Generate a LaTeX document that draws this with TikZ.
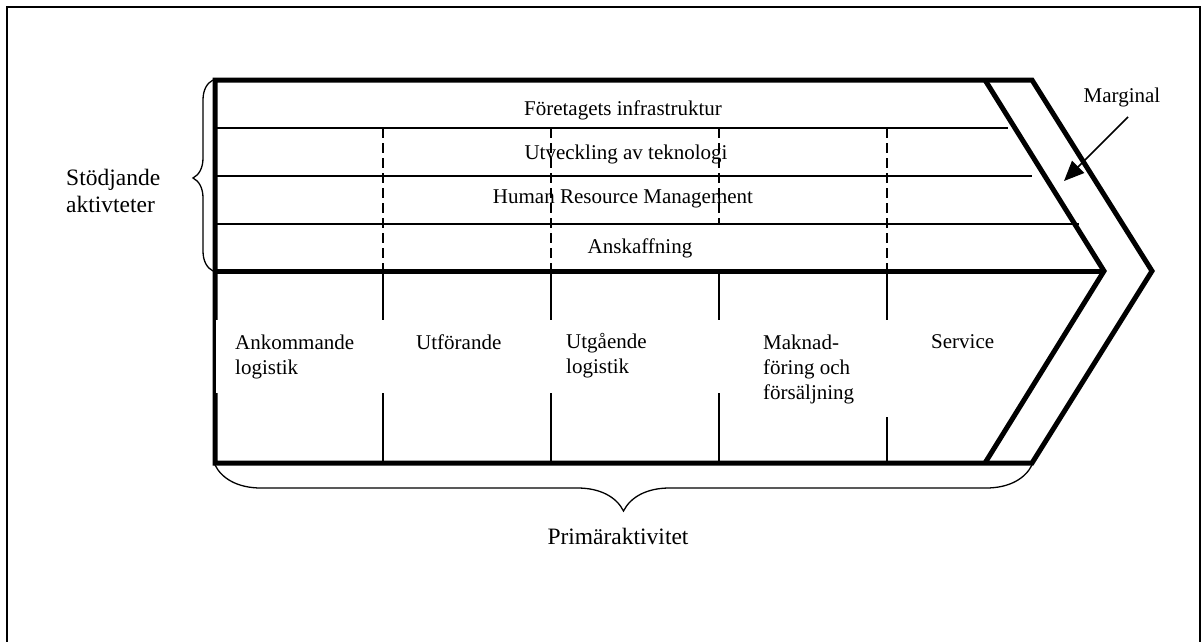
\documentclass[tikz,border=0pt]{standalone}
\usepackage{fontspec}
\setmainfont{Liberation Serif}
\usetikzlibrary{arrows.meta,decorations.pathreplacing}
\begin{document}
\begin{tikzpicture}[x=1pt,y=-1pt,
  heavy/.style={line width=5pt,line join=miter},
  rowline/.style={line width=1.3pt},
  colline/.style={line width=1.5pt},
  dashline/.style={line width=1.3pt,dash pattern=on 10pt off 5pt},
  bracestyle/.style={line width=1.3pt,decorate},
  lbl/.style={inner sep=0pt,font=\fontsize{21}{25}\selectfont},
  biglbl/.style={inner sep=0pt,font=\fontsize{23.5}{26.5}\selectfont},
  cellbox/.style={fill=white,draw=none,inner sep=0pt,anchor=north west}]
\useasboundingbox (0,0) rectangle (1202,641);
\clip (0,0) rectangle (1202,641);

% outer frame (open below the page edge)
\draw[line width=2pt] (7,700) -- (7,7) -- (1200,7) -- (1200,700);

% corner points of the value chain
\coordinate (tl) at (215,80);
\coordinate (ml) at (215,271);
\coordinate (bl) at (215,463);
\coordinate (otop) at (1032,80);
\coordinate (otip) at (1152,271);
\coordinate (obot) at (1032,463);
\coordinate (itop) at (985,80);
\coordinate (itip) at (1104,271);
\coordinate (ibot) at (985,463);

% support activity rows
\draw[rowline] (215,128) -- (1008,128);
\draw[rowline] (215,176) -- (1032,176);
\draw[rowline] (215,224) -- (1079,224);

% dashed column guides in the support part
\draw[dashline] (383,128) -- (383,271);
\draw[dashline] (551,128) -- (551,271);
\draw[dashline] (719,128) -- (719,224);
\draw[dashline] (887,128) -- (887,271);

% column dividers in the primary part
\foreach \x in {383,551,719,887}
  \draw[colline] (\x,271) -- (\x,463);

% heavy outline and margin chevron
\draw[heavy] (tl) -- (otop) -- (otip) -- (obot) -- (bl) -- cycle;
\draw[heavy] (itop) -- (itip) -- (ibot);
\draw[heavy] (ml) -- (itip);

% white text panels of the primary activities
\node[cellbox,minimum width=168.5pt,minimum height=73pt] (p1) at (215.5,320) {};
\node[cellbox,minimum width=168pt,minimum height=73pt] (p2) at (384,320) {};
\node[cellbox,minimum width=167.5pt,minimum height=73pt] (p3) at (552,320) {};
\node[cellbox,minimum width=168.5pt,minimum height=97pt] (p4) at (719.5,320) {};

% support activity labels
\node[lbl,anchor=base] (infra) at (623,115) {Företagets infrastruktur};
\node[lbl,anchor=base] (tekn) at (626,159) {Utveckling av teknologi};
\node[lbl,anchor=base] (hrm) at (623,203) {Human Resource Management};
\node[lbl,anchor=base] (ansk) at (640,253) {Anskaffning};

% primary activity labels
\node[lbl,anchor=north west,align=left] (c1) at (235,334.7) {Ankommande\\logistik};
\node[lbl,anchor=north west,align=left] (c2) at (416,334.7) {Utförande};
\node[lbl,anchor=north west,align=left] (c3) at (566,333) {Utgående\\logistik};
\node[lbl,anchor=north west,align=left] (c4) at (763,334.7) {Maknad-\\föring och\\försäljning};
\node[lbl,anchor=north west,align=left] (c5) at (931,334.7) {Service};

% braces and their captions
\draw[bracestyle,decoration={brace,amplitude=20pt,aspect=0.487}] (213,271) -- (213,80);
\node[biglbl,anchor=north west,align=left] (stod) at (66,169) {Stödjande\\aktivteter};
\draw[bracestyle,decoration={brace,amplitude=46pt,aspect=0.5}] (1032,465) -- (215,465);
\node[biglbl,anchor=base] (prim) at (618,544) {Primäraktivitet};

% margin label and pointer
\node[lbl,anchor=base] (marg) at (1122,102) {Marginal};
\coordinate (m0) at (1128,117);
\coordinate (m1) at (1064,181);
\draw[line width=1.5pt,-{Triangle[length=20pt,width=17pt]}] (m0) -- (m1);
\end{tikzpicture}
\end{document}
